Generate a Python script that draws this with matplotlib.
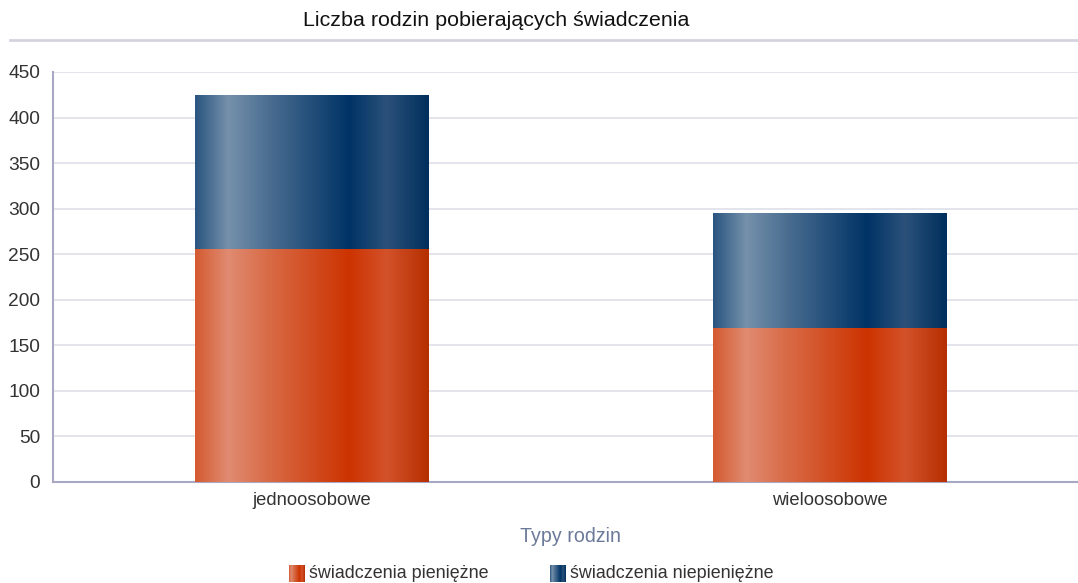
import numpy as np
import matplotlib
matplotlib.use("Agg")
import matplotlib.pyplot as plt
from matplotlib.colors import LinearSegmentedColormap

plt.rcParams['font.family'] = ['Liberation Sans', 'DejaVu Sans']

categories = ['jednoosobowe', 'wieloosobowe']
pieniezne = [256, 169]
niepieniezne = [169, 126]
series_names = ['świadczenia pieniężne', 'świadczenia niepieniężne']

orange_stops = [(0.0, '#d45a30'), (0.14, '#e08b72'), (0.32, '#d86a45'),
                (0.66, '#cc3300'), (0.82, '#d4522a'), (1.0, '#b52f00')]
blue_stops = [(0.0, '#2a5580'), (0.14, '#7591ab'), (0.32, '#4a6d90'),
              (0.66, '#003366'), (0.82, '#2b5179'), (1.0, '#002f5d')]
cmap_orange = LinearSegmentedColormap.from_list('or', orange_stops)
cmap_blue = LinearSegmentedColormap.from_list('bl', blue_stops)

W, H = 1078, 583
fig = plt.figure(figsize=(W / 100, H / 100), dpi=100)
ax = fig.add_axes([52.5 / W, 1 - 482 / H, (1088.5 - 52.5) / W, (482 - 72) / H])

x = np.arange(len(categories))
grad = np.linspace(0, 1, 256).reshape(1, -1)


def gradient_bars(bars, cmap):
    for p in bars:
        x0, y0 = p.get_x(), p.get_y()
        im = ax.imshow(grad, cmap=cmap, aspect='auto', zorder=3,
                       extent=[x0, x0 + p.get_width(), y0, y0 + p.get_height()])
        im.set_clip_path(p)


b1 = ax.bar(x, pieniezne, width=0.45, color='none', edgecolor='none', zorder=3)
b2 = ax.bar(x, niepieniezne, width=0.45, bottom=pieniezne, color='none', edgecolor='none', zorder=3)
gradient_bars(b1, cmap_orange)
gradient_bars(b2, cmap_blue)

ax.set_xlim(-0.5, 1.5)
ax.set_ylim(0, 450)
ax.set_yticks(np.arange(0, 451, 50))
ax.set_xticks(x)
ax.set_xticklabels(categories)
ax.grid(axis='y', color='#e2e2ec', lw=1.3, zorder=0)
ax.set_axisbelow(True)
for s in ['top', 'right']:
    ax.spines[s].set_visible(False)
for s in ['left', 'bottom']:
    ax.spines[s].set_color('#a8a8c4')
    ax.spines[s].set_linewidth(1.5)
ax.tick_params(axis='y', length=0, labelsize=13.8, labelcolor='#333333', pad=9)
ax.tick_params(axis='x', length=0, labelsize=13.2, labelcolor='#333333', pad=7)
ax.set_xlabel('Typy rodzin', fontsize=14.1, color='#6b7a99', labelpad=13)

fig.text(496.5 / W, 1 - 21 / H, 'Liczba rodzin pobierających świadczenia',
         ha='center', va='center', fontsize=15.4, color='#111111')
fig.add_artist(plt.Line2D([10 / W, 1], [1 - 40 / H, 1 - 40 / H], color='#d4d4e0', lw=2))

# legend with gradient swatches
for i, (name, cmap) in enumerate(zip(series_names, [cmap_orange, cmap_blue])):
    lx = [289, 550][i]
    sw = fig.add_axes([lx / W, 1 - 582 / H, 16 / W, 17 / H])
    sw.imshow(grad, cmap=cmap, aspect='auto')
    sw.axis('off')
    fig.text((lx + 20) / W, 1 - 574 / H, name, ha='left', va='center',
             fontsize=12.9, color='#333333')

fig.savefig('out.png', dpi=100)
